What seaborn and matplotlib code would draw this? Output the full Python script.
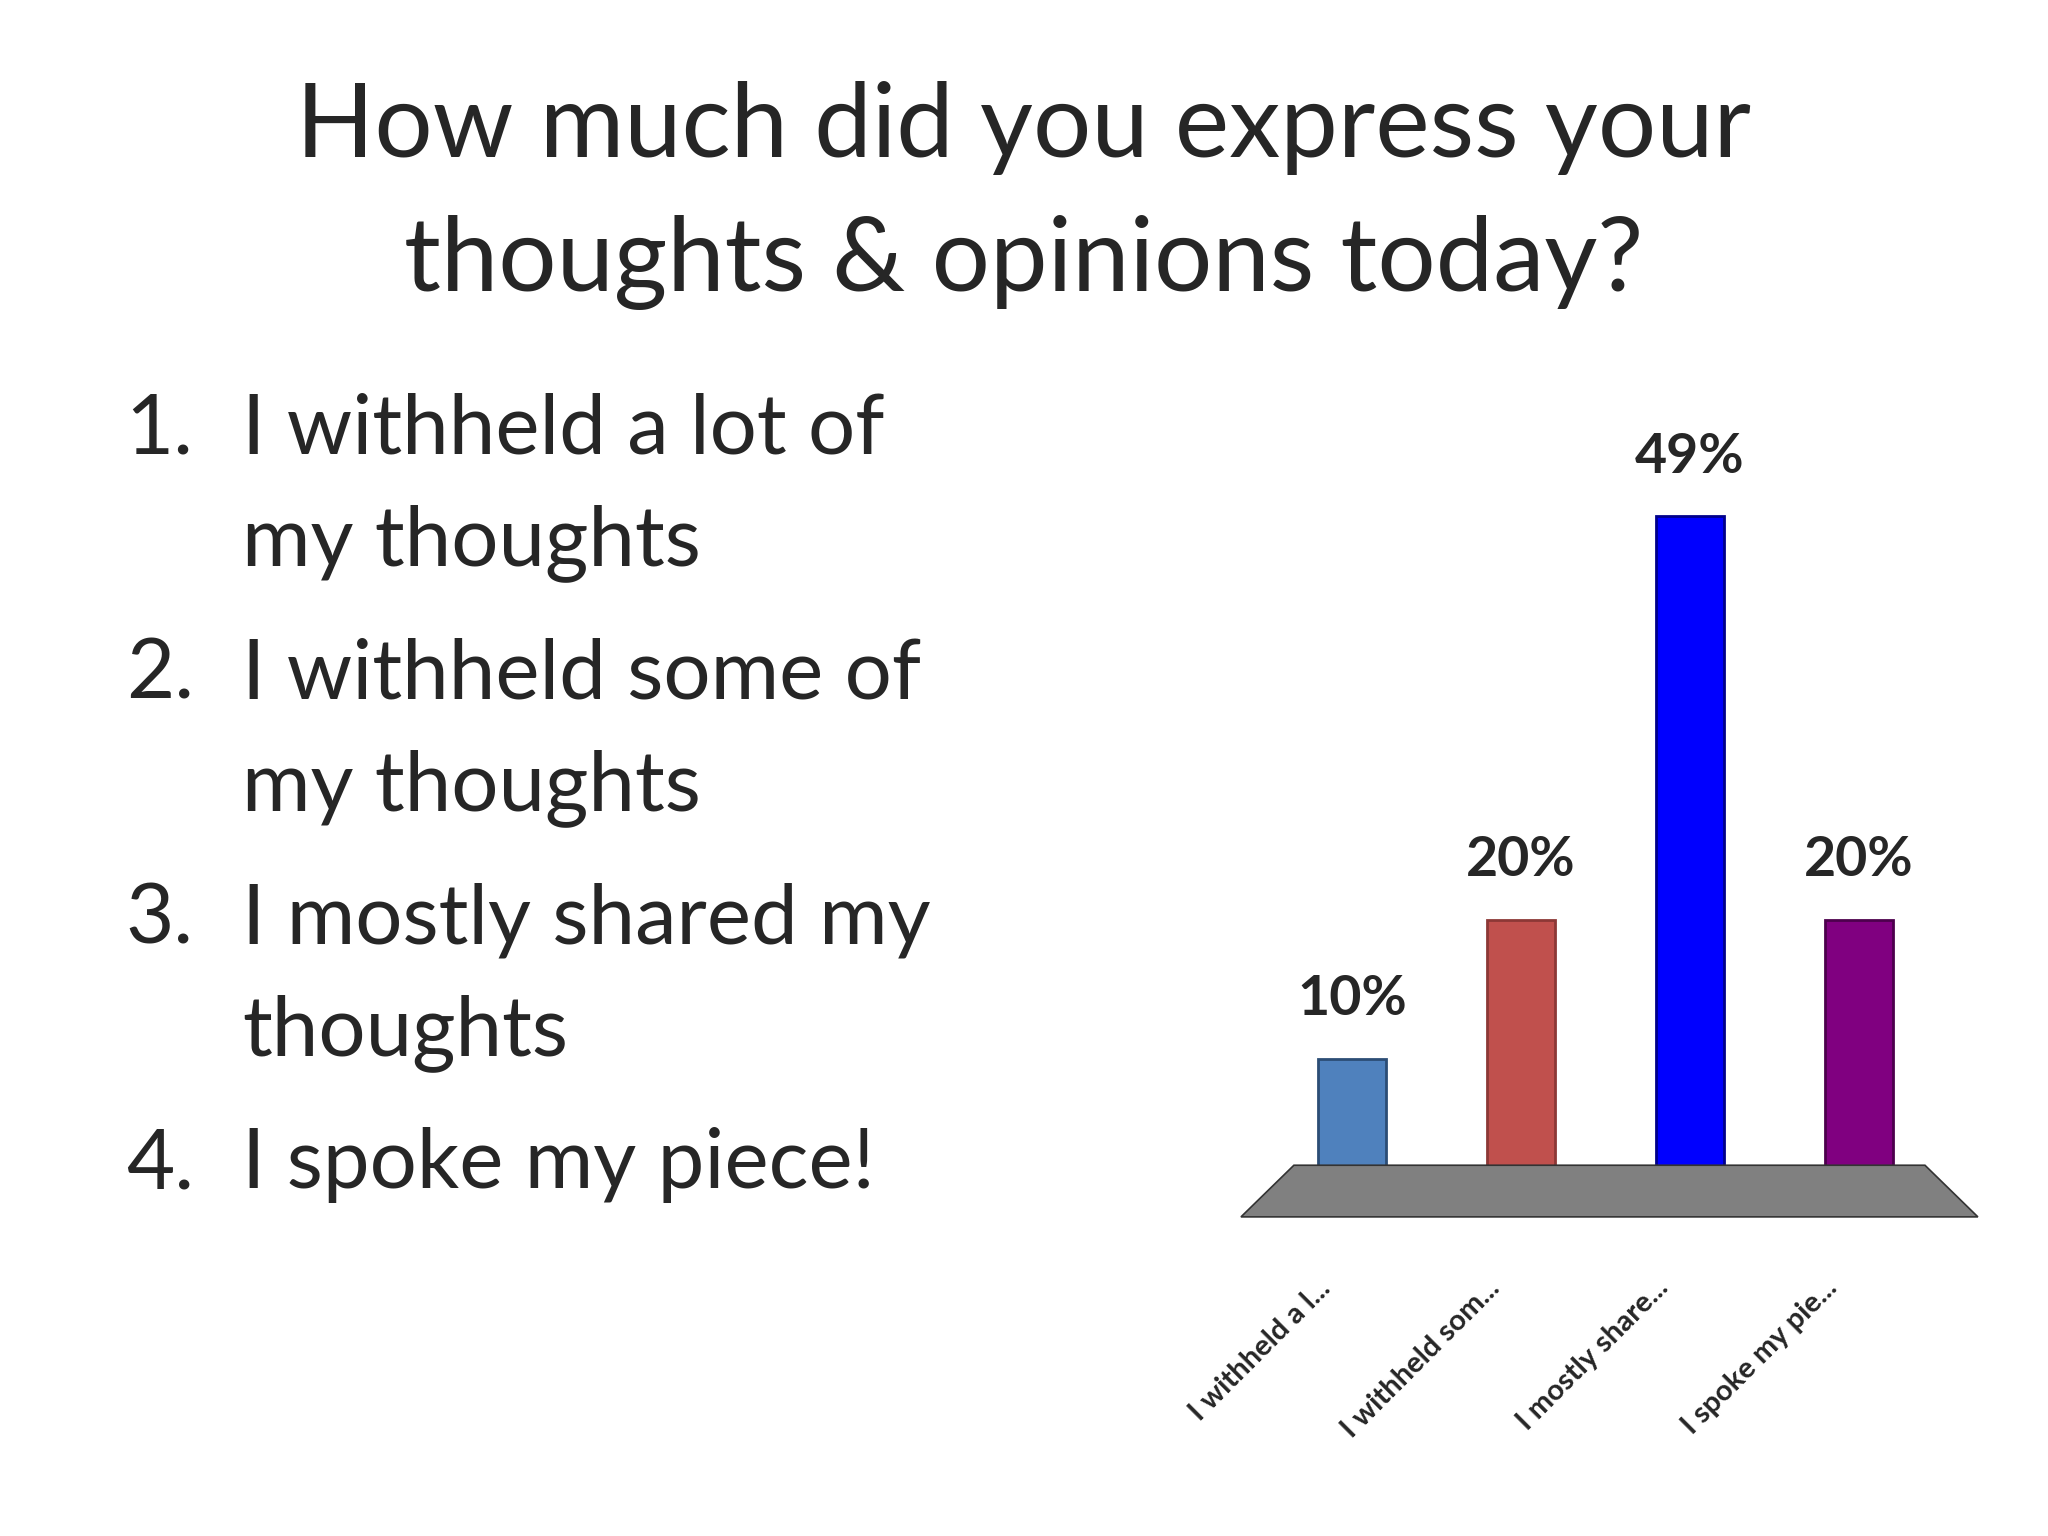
import matplotlib
matplotlib.use("Agg")
import matplotlib.pyplot as plt
import matplotlib.transforms as mtrans
import seaborn as sns
from matplotlib.patches import Polygon

sns.set_style("white")
plt.rcParams['font.family'] = ['Lato', 'DejaVu Sans']

answers = ["I withheld a l...", "I withheld som...", "I mostly share...", "I spoke my pie..."]
percents = [10, 20, 49, 20]
colors = ["#4F81BD", "#C0504D", "#0000FF", "#800080"]
edges = ["#2C4D75", "#8C3836", "#00008C", "#4D004D"]
options = ["I withheld a lot of\nmy thoughts", "I withheld some of\nmy thoughts",
           "I mostly shared my\nthoughts", "I spoke my piece!"]

W, H = 1548, 1160
fig = plt.figure(figsize=(20.48, 15.36), dpi=100)

fig.text(0.5, 1 - 97 / H, "How much did you express your", ha="center", va="center", fontsize=74)
fig.text(0.5, 1 - 198 / H, "thoughts & opinions today?", ha="center", va="center", fontsize=74)

ys = [325, 510, 695, 880]
for i, (y, opt) in enumerate(zip(ys, options)):
    fig.text(95 / W, 1 - y / H, f"{i + 1}.", ha="left", va="center", fontsize=60)
    for j, ln in enumerate(opt.split("\n")):
        fig.text(183 / W, 1 - (y + j * 85) / H, ln, ha="left", va="center", fontsize=60)

# floor
floor = Polygon([[978 / W, 1 - 880 / H], [1455 / W, 1 - 880 / H],
                 [1495 / W, 1 - 919 / H], [938 / W, 1 - 919 / H]],
                closed=True, transform=fig.transFigure, facecolor="#808080",
                edgecolor="#333333", lw=1.2, zorder=0)
fig.patches.append(floor)

ax = fig.add_axes([958 / W, 1 - 905 / H, 511 / W, 578 / H])
ax.patch.set_alpha(0)
sns.barplot(x=answers, y=percents, hue=answers, palette=colors, saturation=1,
            width=0.4, legend=False, ax=ax, zorder=3)
for bar, ec in zip(ax.patches, edges):
    bar.set_edgecolor(ec)
    bar.set_linewidth(2)
ax.set_ylim(0, 55)
ax.set_xlim(-0.5, 3.5)
for i, v in enumerate(percents):
    ax.text(i, v + 2.5, f"{v}%", ha="center", va="bottom", fontsize=40, fontweight="bold")
ax.set_yticks([])
for s in ax.spines.values():
    s.set_visible(False)
ax.tick_params(axis="x", length=0, pad=55)
ax.set_xticks(range(len(answers)))
ax.set_xticklabels(answers, rotation=45, ha="right", rotation_mode="anchor",
                   fontsize=21, fontweight="bold")
shift = mtrans.ScaledTranslation(-0.35, 0, fig.dpi_scale_trans)
for lab in ax.get_xticklabels():
    lab.set_transform(lab.get_transform() + shift)

fig.savefig("out.png", dpi=100, facecolor="white")
